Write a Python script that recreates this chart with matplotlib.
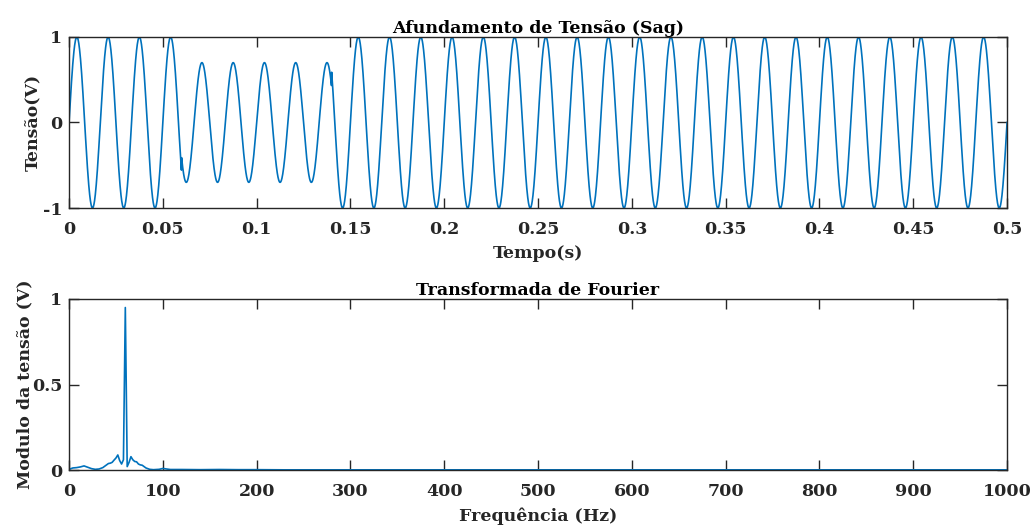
import numpy as np
import matplotlib
matplotlib.use("Agg")
import matplotlib.pyplot as plt

# ---- sag signal parameters ----
freq_hz = 60.0          # fundamental frequency
amplitude = 1.0         # nominal amplitude (V)
sag_level = 0.7         # amplitude during the sag
sag_start = 0.06        # s
sag_end = 0.14          # s
duration = 0.5          # s
fs = 10000.0            # sampling rate (Hz)

# ---- spectrum ----
spec_freq = [0, 4, 8, 12, 16, 20, 24, 28, 32, 36, 40, 42, 44, 46, 48, 50, 52, 54,
             56, 58, 60, 62, 64, 66, 68, 70, 72, 74, 76, 78, 80, 82, 86, 90, 96,
             100, 104, 108, 120, 140, 160, 180, 200, 230, 260, 1000]
spec_mag = [0.004, 0.012, 0.014, 0.018, 0.024, 0.016, 0.008, 0.004, 0.006, 0.014,
            0.030, 0.038, 0.040, 0.045, 0.058, 0.070, 0.088, 0.055, 0.035, 0.060,
            0.950, 0.020, 0.045, 0.078, 0.060, 0.050, 0.048, 0.035, 0.030, 0.028,
            0.020, 0.012, 0.004, 0.002, 0.004, 0.009, 0.006, 0.003, 0.003, 0.002,
            0.003, 0.002, 0.002, 0.001, 0.001, 0.001]

# ---- text / ticks ----
title_top = "Afundamento de Tensão (Sag)"
title_bot = "Transformada de Fourier"
xlabel_top = "Tempo(s)"
ylabel_top = "Tensão(V)"
xlabel_bot = "Frequência (Hz)"
ylabel_bot = "Modulo da tensão (V)"
xticks_top = [0, 0.05, 0.1, 0.15, 0.2, 0.25, 0.3, 0.35, 0.4, 0.45, 0.5]
xticklabels_top = ["0", "0.05", "0.1", "0.15", "0.2", "0.25", "0.3", "0.35", "0.4", "0.45", "0.5"]
yticks_top = [-1, 0, 1]
yticklabels_top = ["-1", "0", "1"]
xticks_bot = [0, 100, 200, 300, 400, 500, 600, 700, 800, 900, 1000]
yticks_bot = [0, 0.5, 1]
yticklabels_bot = ["0", "0.5", "1"]

# ---- build waveform ----
n = int(round(duration * fs))
t = np.arange(n + 1) / fs
env = np.where((t >= sag_start) & (t < sag_end), sag_level, amplitude)
v = env * np.sin(2 * np.pi * freq_hz * t)

plt.rcParams['font.family'] = ['DejaVu Serif']
plt.rcParams['font.weight'] = 'bold'
plt.rcParams['axes.labelweight'] = 'bold'
plt.rcParams['axes.titleweight'] = 'bold'

fig = plt.figure(figsize=(10.35, 5.29), dpi=100)
ax1 = fig.add_axes([0.0667, 0.6068, 0.9063, 0.3233])
ax2 = fig.add_axes([0.0667, 0.1115, 0.9063, 0.3233])

line_c = '#0072BD'
grey = '#262626'
fs_txt = 12.5

ax1.plot(t, v, color=line_c, lw=1.2)
ax2.plot(spec_freq, spec_mag, color=line_c, lw=1.2)

ax1.set_xlim(0, 0.5)
ax1.set_ylim(-1, 1)
ax1.set_xticks(xticks_top)
ax1.set_xticklabels(xticklabels_top)
ax1.set_yticks(yticks_top)
ax1.set_yticklabels(yticklabels_top)

ax2.set_xlim(0, 1000)
ax2.set_ylim(0, 1)
ax2.set_xticks(xticks_bot)
ax2.set_yticks(yticks_bot)
ax2.set_yticklabels(yticklabels_bot)

for ax, ttl, xl, yl, ylp in [(ax1, title_top, xlabel_top, ylabel_top, 0.5),
                             (ax2, title_bot, xlabel_bot, ylabel_bot, -1.0)]:
    ax.set_title(ttl, fontsize=fs_txt, fontweight='bold', color='black', pad=3)
    ax.set_xlabel(xl, fontsize=fs_txt, color=grey, labelpad=5.5)
    ax.set_ylabel(yl, fontsize=fs_txt, color=grey, labelpad=ylp)
    ax.tick_params(direction='in', length=7, width=1.0, colors=grey,
                   labelsize=fs_txt, top=True, right=True)
    ax.tick_params(axis='x', pad=9)
    ax.tick_params(axis='y', pad=5)
    for lab in ax.get_xticklabels() + ax.get_yticklabels():
        lab.set_fontweight('bold')
    for s in ax.spines.values():
        s.set_color(grey)
        s.set_linewidth(1.0)

fig.savefig("out.png", dpi=100)
